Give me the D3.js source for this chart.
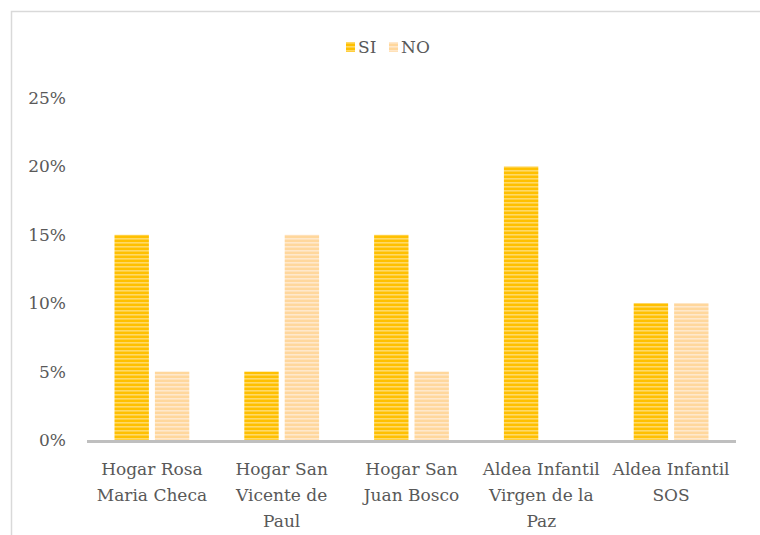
<!DOCTYPE html>
<html>
<head>
<meta charset="utf-8">
<script src="https://cdn.jsdelivr.net/npm/d3@7"></script>
<style>
  body { margin: 0; background: #fff; }
  svg { display: block; }
</style>
</head>
<body>
<div id="chart"></div>
<script>
const categories = [
  ["Hogar Rosa", "Maria Checa"],
  ["Hogar San", "Vicente de", "Paul"],
  ["Hogar San", "Juan Bosco"],
  ["Aldea Infantil", "Virgen de la", "Paz"],
  ["Aldea Infantil", "SOS"]
]
const seriesNames = ["SI", "NO"]
const siValues = [15, 5, 15, 20, 10]
const noValues = [5, 15, 5, 0, 10]
const yTicks = [0, 5, 10, 15, 20, 25]

const width = 760, height = 535
const margin = { left: 87, right: 24, top: 98, bottom: 95 }
const fontFamily = "'DejaVu Serif', 'Liberation Serif', serif"
const fontSize = '17px'
const textColor = "#595959"

const colors = {
  SI: { base: "#FFC000", stripe: "#FFD966" },
  NO: { base: "#FFD79C", stripe: "#FFE8CB" }
}

const svg = d3.select('#chart').append('svg')
  .attr('width', width)
  .attr('height', height)
  .attr('font-family', fontFamily)

// outer frame (only top and left visible in the crop)
svg.append('path')
  .attr('d', `M11.5,${height} V11.5 H${width}`)
  .attr('fill', 'none')
  .attr('stroke', '#d9d9d9')
  .attr('stroke-width', 1.5)

const defs = svg.append('defs')
seriesNames.forEach(name => {
  const p = defs.append('pattern')
    .attr('id', 'pat' + name)
    .attr('patternUnits', 'userSpaceOnUse')
    .attr('width', 8)
    .attr('height', 4)
  p.append('rect').attr('width', 8).attr('height', 4).attr('fill', colors[name].base)
  p.append('rect').attr('y', 2).attr('width', 8).attr('height', 1.6).attr('fill', colors[name].stripe)
})

const x0 = d3.scaleBand()
  .domain(d3.range(categories.length))
  .range([margin.left, width - margin.right])
  .padding(0)

const y = d3.scaleLinear()
  .domain([0, 25])
  .range([height - margin.bottom, margin.top])

const barW = x0.bandwidth() * 0.265
const gap = 6

const rows = categories.map((c, i) => ({ i, SI: siValues[i], NO: noValues[i] }))

// y tick labels
svg.append('g')
  .selectAll('text')
  .data(yTicks)
  .join('text')
  .attr('x', 66)
  .attr('y', d => y(d))
  .attr('dy', '0.35em')
  .attr('text-anchor', 'end')
  .attr('fill', textColor)
  .style('font-size', fontSize)
  .text(d => d + '%')

// bars
seriesNames.forEach((name, k) => {
  svg.append('g')
    .selectAll('rect')
    .data(rows.filter(r => r[name] > 0))
    .join('rect')
    .attr('x', d => {
      const c = x0(d.i) + x0.bandwidth() / 2
      return k === 0 ? c - gap / 2 - barW : c + gap / 2
    })
    .attr('y', d => y(d[name]))
    .attr('width', barW)
    .attr('height', d => y(0) - y(d[name]))
    .attr('fill', `url(#pat${name})`)
})

// baseline
svg.append('line')
  .attr('x1', margin.left)
  .attr('x2', width - margin.right)
  .attr('y1', y(0) + 1.5)
  .attr('y2', y(0) + 1.5)
  .attr('stroke', '#bfbfbf')
  .attr('stroke-width', 3)

// category labels
const lab = svg.append('g')
  .selectAll('text')
  .data(categories)
  .join('text')
  .attr('x', (d, i) => x0(i) + x0.bandwidth() / 2)
  .attr('y', y(0) + 35)
  .attr('text-anchor', 'middle')
  .attr('fill', textColor)
  .style('font-size', fontSize)
lab.selectAll('tspan')
  .data(d => d)
  .join('tspan')
  .attr('x', function () { return d3.select(this.parentNode).attr('x') })
  .attr('dy', (d, i) => i === 0 ? 0 : 26)
  .text(d => d)

// legend
const legend = svg.append('g')
const legendItems = [
  { name: "SI", x: 346 },
  { name: "NO", x: 389 }
]
legendItems.forEach(it => {
  legend.append('rect')
    .attr('x', it.x)
    .attr('y', 42)
    .attr('width', 9)
    .attr('height', 10)
    .attr('fill', `url(#pat${it.name})`)
  legend.append('text')
    .attr('x', it.x + 12)
    .attr('y', 47)
    .attr('dy', '0.35em')
    .attr('fill', textColor)
    .style('font-size', fontSize)
    .text(it.name)
})
</script>
</body>
</html>
